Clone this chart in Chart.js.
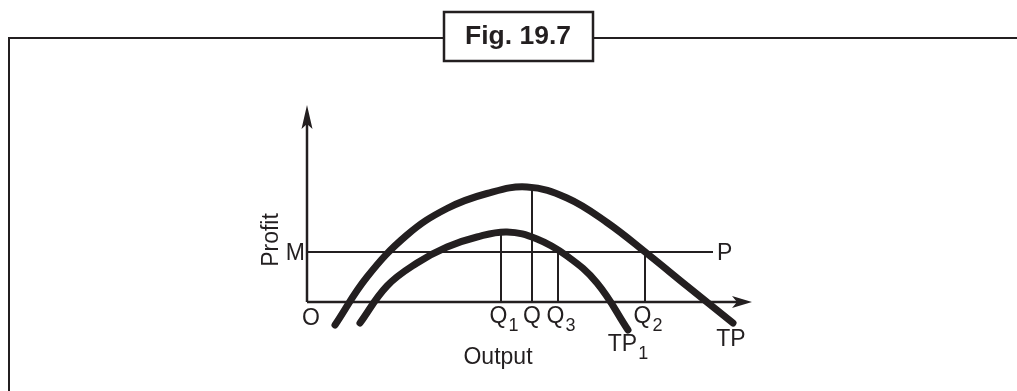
<!DOCTYPE html>
<html><head><meta charset="utf-8">
<script src="https://cdn.jsdelivr.net/npm/chart.js@4.4.1/dist/chart.umd.min.js"></script>
<style>html,body{margin:0;padding:0;background:#fff;overflow:hidden}#wrap{position:relative;width:1017px;height:391px}</style>
</head><body><div id="wrap"><canvas id="c"></canvas></div>
<script>
// ---- data (output units, profit units) ----
const tpX  = [2.8, 6.0, 10.0, 14.0, 18.0, 22.0, 26.0, 30.0, 34.0, 38.0, 42.6];
const tpY  = [-2.3, 2.5, 6.7, 9.35, 10.85, 11.5, 10.4, 7.95, 4.85, 1.6, -2.1];
const tp1X = [5.3, 8.0, 11.0, 14.0, 17.0, 20.0, 23.0, 26.0, 29.0, 32.1];
const tp1Y = [-2.1, 1.6, 3.9, 5.5, 6.5, 7.0, 6.3, 4.6, 1.9, -2.8];
const qMain   = ['Q', 'Q', 'Q', 'Q'];
const qSub    = ['1', '', '3', '2'];
const qValues = [19.4, 22.5, 25.1, 33.8];
const qTops   = [6.95, 11.5, 5.0, 5.0];
const mLevel = 5.0;
const pEnd = 40.6;
const xAxisEnd = 44.5;
const yAxisEnd = 19.7;
const curveNames = ['TP', 'TP'];
const curveSubs  = ['', '1'];
const titleText = 'Fig. 19.7';
const xTitle = 'Output';
const yTitle = 'Profit';

const INK = '#231f20';
const FONT = "'Liberation Sans', Arial, Helvetica, sans-serif";

const pts = (xs, ys) => xs.map((x, i) => ({x, y: ys[i]}));
const thick = {showLine: true, borderColor: INK, borderWidth: 7, pointRadius: 0, borderCapStyle: 'round', borderJoinStyle: 'round', tension: 0.4, clip: false};
const thin  = {showLine: true, borderColor: INK, borderWidth: 2, pointRadius: 0, borderCapStyle: 'butt', clip: false, tension: 0};

const datasets = [
  Object.assign({label: 'TP',  data: pts(tpX, tpY)}, thick),
  Object.assign({label: 'TP1', data: pts(tp1X, tp1Y)}, thick),
  Object.assign({label: 'MP',  data: [{x: 0, y: mLevel}, {x: pEnd, y: mLevel}]}, thin),
  Object.assign({label: 'xaxis', data: [{x: 0, y: 0}, {x: xAxisEnd - 1.0, y: 0}]}, thin, {borderWidth: 2.5}),
  Object.assign({label: 'yaxis', data: [{x: 0, y: 0}, {x: 0, y: yAxisEnd - 1.0}]}, thin, {borderWidth: 2.5}),
];
qValues.forEach((q, i) => datasets.push(Object.assign({label: 'q' + i, data: [{x: q, y: 0}, {x: q, y: qTops[i]}]}, thin)));

function label(ctx, main, sub, cx, base, size, subSize, align) {
  ctx.font = size + 'px ' + FONT;
  const wm = ctx.measureText(main).width;
  ctx.font = subSize + 'px ' + FONT;
  const ws = sub ? ctx.measureText(sub).width + 1 : 0;
  const w = wm + ws;
  let x0 = cx - w / 2;
  if (align === 'left') x0 = cx;
  if (align === 'right') x0 = cx - w;
  ctx.textAlign = 'left';
  ctx.textBaseline = 'alphabetic';
  ctx.font = size + 'px ' + FONT;
  ctx.fillText(main, x0, base);
  if (sub) { ctx.font = subSize + 'px ' + FONT; ctx.fillText(sub, x0 + wm + 1, base + 8); }
}

const decor = {
  id: 'decor',
  afterDraw(chart) {
    const ctx = chart.ctx, sx = chart.scales.x, sy = chart.scales.y;
    const px = v => sx.getPixelForValue(v), py = v => sy.getPixelForValue(v);
    ctx.save();
    ctx.fillStyle = INK; ctx.strokeStyle = INK;
    // arrowheads
    const ox = px(0), oy = py(0);
    const tx = px(xAxisEnd), ty = py(yAxisEnd);
    ctx.beginPath();
    ctx.moveTo(tx, oy); ctx.lineTo(tx - 20, oy - 6); ctx.lineTo(tx - 15, oy); ctx.lineTo(tx - 20, oy + 6); ctx.closePath(); ctx.fill();
    ctx.beginPath();
    ctx.moveTo(ox, ty); ctx.lineTo(ox - 5.5, ty + 24); ctx.lineTo(ox, ty + 19); ctx.lineTo(ox + 5.5, ty + 24); ctx.closePath(); ctx.fill();
    // labels
    label(ctx, 'O', '', ox + 4, oy + 23, 23, 16);
    qValues.forEach((q, i) => label(ctx, qMain[i], qSub[i], px(q) + (qSub[i] ? 3 : 0), oy + 21, 23, 18));
    label(ctx, 'M', '', ox - 2, py(mLevel) + 8, 23, 16, 'right');
    label(ctx, 'P', '', px(pEnd) + 4, py(mLevel) + 8, 23, 16, 'left');
    label(ctx, curveNames[0], curveSubs[0], px(tpX[tpX.length - 1]) - 2, py(tpY[tpY.length - 1]) + 23, 23, 18);
    label(ctx, curveNames[1], curveSubs[1], px(tp1X[tp1X.length - 1]), py(tp1Y[tp1Y.length - 1]) + 21, 23, 18);
    label(ctx, xTitle, '', ox + 191, oy + 62, 23, 16);
    ctx.save();
    ctx.translate(ox - 29, py(mLevel) - 12);
    ctx.rotate(-Math.PI / 2);
    ctx.font = '23px ' + FONT; ctx.textAlign = 'center'; ctx.textBaseline = 'alphabetic';
    ctx.fillText(yTitle, 0, 0);
    ctx.restore();
    // frame and title box
    ctx.lineWidth = 2;
    ctx.beginPath();
    ctx.moveTo(9, 391); ctx.lineTo(9, 38); ctx.lineTo(444, 38);
    ctx.moveTo(593, 38); ctx.lineTo(1017, 38);
    ctx.stroke();
    ctx.lineWidth = 2.5;
    ctx.strokeRect(444, 12, 149, 49);
    ctx.save();
    ctx.translate(518, 44);
    ctx.scale(1.06, 1);
    ctx.font = 'bold 25px ' + FONT; ctx.textAlign = 'center'; ctx.textBaseline = 'alphabetic';
    ctx.fillText(titleText, 0, 0);
    ctx.restore();
    ctx.restore();
  }
};

new Chart(document.getElementById('c'), {
  type: 'scatter',
  data: {datasets},
  options: {
    responsive: true, maintainAspectRatio: false, animation: false, events: [],
    layout: {padding: 0},
    plugins: {legend: {display: false}, tooltip: {enabled: false}, title: {display: false}},
    scales: {
      x: {type: 'linear', display: false, min: -30.7, max: 71.0},
      y: {type: 'linear', display: false, min: -8.9, max: 30.2}
    }
  },
  plugins: [decor]
});
</script></body></html>
